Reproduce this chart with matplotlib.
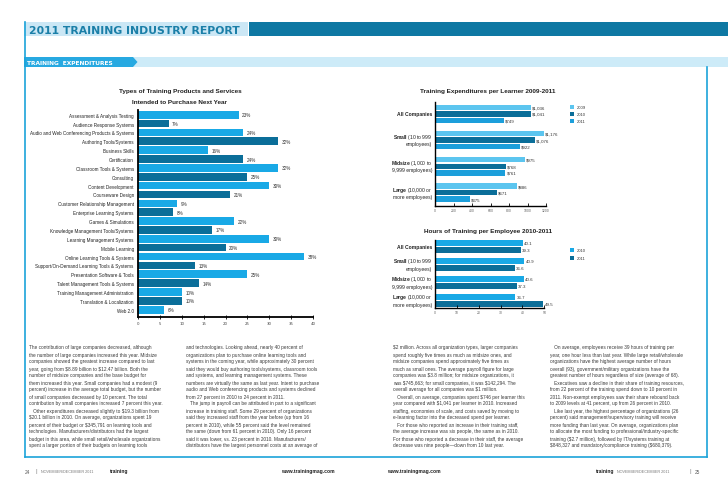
import matplotlib
matplotlib.use("Agg")
import matplotlib.pyplot as plt
from matplotlib.patches import Rectangle, Polygon

W, H = 728, 489
SANS = ["Liberation Sans", "DejaVu Sans"]
plt.rcParams["mathtext.fontset"] = "custom"
plt.rcParams["mathtext.bf"] = "Liberation Sans:bold"
plt.rcParams["mathtext.rm"] = "Liberation Sans"

LIGHT = "#19a9e6"
DARK = "#0b6e99"
MID = "#1c9fdb"
PALE = "#5cc5ef"
LINE = "#1ba3d9"

# ---- data ----
products = [
    "Assessment & Analysis Testing", "Audience Response Systems",
    "Audio and Web Conferencing Products & Systems", "Authoring Tools/Systems",
    "Business Skills", "Certification", "Classroom Tools & Systems", "Consulting",
    "Content Development", "Courseware Design", "Customer Relationship Management",
    "Enterprise Learning Systems", "Games & Simulations",
    "Knowledge Management Tools/Systems", "Learning Management Systems",
    "Mobile Learning", "Online Learning Tools & Systems",
    "Support/On-Demand Learning Tools & Systems", "Presentation Software & Tools",
    "Talent Management Tools & Systems", "Training Management Administration",
    "Translation & Localization", "Web 2.0",
]
product_pct = [23, 7, 24, 32, 16, 24, 32, 25, 30, 21, 9, 8, 22, 17, 30, 20, 38,
               13, 25, 14, 10, 10, 6]
product_ticks = [0, 5, 10, 15, 20, 25, 30, 35, 40]

size_bold = ["All Companies", "Small", "Midsize", "Large"]
size_rest = [("",), (" (10 to 999", "employees)"),
             (" (1,000 to", "9,999 employees)"), (" (10,000 or", "more employees)")]
spend_years = ["2009", "2010", "2011"]
spend_2009 = [1036, 1176, 975, 886]
spend_2010 = [1041, 1076, 768, 671]
spend_2011 = [749, 922, 761, 375]
spend_ticks = [0, 200, 400, 600, 800, 1000, 1200]

hours_years = ["2010", "2011"]
hours_2010 = [40.1, 40.9, 40.6, 36.7]
hours_2011 = [39.3, 36.6, 37.3, 49.5]
hours_ticks = [0, 10, 20, 30, 40, 50]

col1 = [
    "The contribution of large companies decreased, although",
    "the number of large companies increased this year. Midsize",
    "companies showed the greatest increase compared to last",
    "year, going from $8.89 billion to $12.47 billion. Both the",
    "number of midsize companies and the base budget for",
    "them increased this year. Small companies had a modest (9",
    "percent) increase in the average total budget, but the number",
    "of small companies decreased by 10 percent. The total",
    "contribution by small companies increased 7 percent this year.",
    "   Other expenditures decreased slightly to $19.3 billion from",
    "$20.1 billion in 2010. On average, organizations spent 19",
    "percent of their budget or $345,791 on learning tools and",
    "technologies. Manufacturers/distributors had the largest",
    "budget in this area, while small retail/wholesale organizations",
    "spent a larger portion of their budgets on learning tools",
]
col2 = [
    "and technologies. Looking ahead, nearly 40 percent of",
    "organizations plan to purchase online learning tools and",
    "systems in the coming year, while approximately 30 percent",
    "said they would buy authoring tools/systems, classroom tools",
    "and systems, and learning management systems. These",
    "numbers are virtually the same as last year. Intent to purchase",
    "audio and Web conferencing products and systems declined",
    "from 27 percent in 2010 to 24 percent in 2011.",
    "   The jump in payroll can be attributed in part to a significant",
    "increase in training staff. Some 29 percent of organizations",
    "said they increased staff from the year before (up from 16",
    "percent in 2010), while 55 percent said the level remained",
    "the same (down from 61 percent in 2010). Only 16 percent",
    "said it was lower, vs. 23 percent in 2010. Manufacturers/",
    "distributors have the largest personnel costs at an average of",
]
col3 = [
    "$2 million. Across all organization types, larger companies",
    "spend roughly five times as much as midsize ones, and",
    "midsize companies spend approximately five times as",
    "much as small ones. The average payroll figure for large",
    "companies was $3.8 million; for midsize organizations, it",
    "was $745,663; for small companies, it was $142,294. The",
    "overall average for all companies was $1 million.",
    "   Overall, on average, companies spent $746 per learner this",
    "year compared with $1,041 per learner in 2010. Increased",
    "staffing, economies of scale, and costs saved by moving to",
    "e-learning factor into the decreased spend per learner.",
    "   For those who reported an increase in their training staff,",
    "the average increase was six people, the same as in 2010.",
    "For those who reported a decrease in their staff, the average",
    "decrease was nine people\u2014down from 10 last year.",
]
col4 = [
    "   On average, employees receive 39 hours of training per",
    "year, one hour less than last year. While large retail/wholesale",
    "organizations have the highest average number of hours",
    "overall (93), government/military organizations have the",
    "greatest number of hours regardless of size (average of 68).",
    "   Executives saw a decline in their share of training resources,",
    "from 22 percent of the training spend down to 10 percent in",
    "2011. Non-exempt employees saw their share rebound back",
    "to 2009 levels at 41 percent, up from 26 percent in 2010.",
    "   Like last year, the highest percentage of organizations (26",
    "percent) said management/supervisory training will receive",
    "more funding than last year. On average, organizations plan",
    "to allocate the most funding to professional/industry-specific",
    "training ($2.7 million), followed by IT/systems training at",
    "$848,327 and mandatory/compliance training ($680,379).",
]

fig = plt.figure(figsize=(W / 100, H / 100), dpi=100)
bg = fig.add_axes([0, 0, 1, 1])
bg.set_xlim(0, W)
bg.set_ylim(H, 0)
bg.axis("off")


def px_axes(x0, y0, x1, y1):
    return fig.add_axes([x0 / W, 1 - y1 / H, (x1 - x0) / W, (y1 - y0) / H])


# ---- page frame and headers ----
bg.add_patch(Rectangle((24, 23), 224, 14, color="#cbe7f5", lw=0))
bg.add_patch(Rectangle((249, 23), W - 249, 14, color="#0e78a3", lw=0))
bg.text(29, 30.5, "2011 TRAINING INDUSTRY REPORT", fontsize=7.8, fontweight="bold",
        color="#1b7fa8", va="center", ha="left", family="DejaVu Sans")
bg.add_patch(Rectangle((133, 58), W - 133, 10, color="#cdebf8", lw=0))
bg.add_patch(Polygon([(24, 58), (133, 58), (137.5, 63), (133, 68), (24, 68)],
                     closed=True, color="#27a9e1", lw=0))
bg.text(27, 63.2, "TRAINING  EXPENDITURES", fontsize=4.2, fontweight="bold",
        color="white", va="center", ha="left", family="DejaVu Sans")
bg.plot([24.5, 24.5], [23, 458], color=LINE, lw=1.2)
bg.plot([24.5, 706.5], [458, 458], color=LINE, lw=1.2)
bg.plot([706.5, 706.5], [68, 458], color=LINE, lw=1.2)

# ---- left chart ----
bg.text(180, 92, "Types of Training Products and Services", fontsize=4.6,
        fontweight="bold", ha="center", va="center", family=SANS, color="#222")
bg.text(180, 102, "Intended to Purchase Next Year", fontsize=4.6,
        fontweight="bold", ha="center", va="center", family=SANS, color="#222")
ax = px_axes(138, 111, 313, 318)
idx = list(range(len(products)))
colors = [LIGHT if i % 2 == 0 else DARK for i in idx]
ax.barh(idx, product_pct, height=0.86, color=colors, lw=0)
for i, v in zip(idx, product_pct):
    ax.text(v + 0.8, i, f"{v}%", fontsize=3.3, va="center", ha="left",
            color="#333", family=SANS)
ax.set_xlim(0, 40)
ax.set_ylim(22.82, -0.53)
ax.set_yticks(idx)
ax.set_yticklabels(products, fontsize=3.35, family=SANS, color="#222")
ax.set_xticks(product_ticks)
ax.set_xticklabels([str(t) for t in product_ticks], fontsize=2.8, color="#444")
ax.tick_params(axis="y", length=0, pad=3)
ax.tick_params(axis="x", length=2.5, width=0.6, direction="inout", pad=1.5)
for s in ["top", "right"]:
    ax.spines[s].set_visible(False)
ax.spines["left"].set_linewidth(1.3)
ax.spines["bottom"].set_linewidth(1.3)
ax.patch.set_alpha(0)


def size_labels(ys):
    for b, rest, yy in zip(size_bold, size_rest, ys):
        if len(rest) == 1:
            bg.text(432, (yy[0] + yy[-1]) / 2, b, fontsize=3.6, fontweight="bold",
                    ha="right", va="center", family=SANS, color="#222")
        else:
            bg.text(432, yy[0], "$\\mathbf{%s}$%s" % (b, rest[0]), fontsize=3.6,
                    ha="right", va="center", family=SANS, color="#222")
            bg.text(432, yy[1], rest[1], fontsize=3.6, ha="right", va="center",
                    family=SANS, color="#222")


def right_axes(ax):
    for s in ["top", "right"]:
        ax.spines[s].set_visible(False)
    ax.spines["left"].set_linewidth(1.0)
    ax.spines["bottom"].set_linewidth(1.0)
    ax.set_yticks([])
    ax.tick_params(axis="x", length=2, width=0.6, direction="in", pad=1.5,
                   labelsize=2.2, labelcolor="#555")
    ax.patch.set_alpha(0)


# ---- top right chart ----
bg.text(488, 92, "Training Expenditures per Learner 2009-2011", fontsize=4.6,
        fontweight="bold", ha="center", va="center", family=SANS, color="#222")
ax2 = px_axes(435, 103.3, 546, 206.7)
for j, (vals, c) in enumerate(zip([spend_2009, spend_2010, spend_2011], [PALE, DARK, MID])):
    ys = [4 * g + j for g in range(len(vals))]
    ax2.barh(ys, vals, height=0.82, color=c, lw=0)
    for y, v in zip(ys, vals):
        ax2.text(v + 12, y, f"${v:,}", fontsize=3.2, va="center", ha="left",
                 color="#333", family=SANS, parse_math=False)
ax2.set_xlim(0, 1200)
ax2.set_ylim(15.0, -0.76)
ax2.set_xticks(spend_ticks)
ax2.set_xticklabels([str(t) for t in spend_ticks])
right_axes(ax2)
size_labels([(108.3, 121.3), (137.5, 144.5), (163.5, 170.5), (190.5, 197.5)])
for k, (yr, c) in enumerate(zip(spend_years, [PALE, DARK, MID])):
    y = 108.3 + k * 6.8
    bg.add_patch(Rectangle((570, y - 2), 4, 4, color=c, lw=0))
    bg.text(576.5, y, yr, fontsize=3.0, va="center", ha="left", color="#333", family=SANS)

# ---- bottom right chart ----
bg.text(488, 231.7, "Hours of Training per Employee 2010-2011", fontsize=4.6,
        fontweight="bold", ha="center", va="center", family=SANS, color="#222")
ax3 = px_axes(435, 240.7, 544.3, 309.3)
for j, (vals, c) in enumerate(zip([hours_2010, hours_2011], [LIGHT, DARK])):
    ys = [2.5 * g + j for g in range(len(vals))]
    ax3.barh(ys, vals, height=0.83, color=c, lw=0)
    for y, v in zip(ys, vals):
        ax3.text(v + 0.6, y, f"{v}", fontsize=3.2, va="center", ha="left",
                 color="#333", family=SANS)
ax3.set_xlim(0, 50)
ax3.set_ylim(9.07, -0.46)
ax3.set_xticks(hours_ticks)
ax3.set_xticklabels([str(t) for t in hours_ticks])
right_axes(ax3)
size_labels([(244, 251), (261, 269), (279, 287), (298, 305)])
for k, (yr, c) in enumerate(zip(hours_years, [LIGHT, DARK])):
    y = 251 + k * 8
    bg.add_patch(Rectangle((570, y - 2), 4, 4, color=c, lw=0))
    bg.text(576.5, y, yr, fontsize=3.0, va="center", ha="left", color="#333", family=SANS)

# ---- body text ----
for x, lines in [(29, col1), (186, col2), (393, col3), (550, col4)]:
    for n, line in enumerate(lines):
        bg.text(x, 348 + n * 7.0, line, fontsize=3.4, va="center", ha="left",
                color="#3a3a3a", family=SANS, parse_math=False)

# ---- footer ----
fy = 472
bg.text(25, fy, "24", fontsize=3.4, va="center", color="#555", family=SANS)
bg.text(35, fy, "|", fontsize=4.5, va="center", color="#888", family=SANS)
bg.text(41, fy, "NOVEMBER/DECEMBER 2011", fontsize=2.7, va="center", color="#777", family=SANS)
bg.text(110, fy, "training", fontsize=3.6, va="center", fontweight="bold", color="#222", family=SANS)
bg.text(308, fy, "www.trainingmag.com", fontsize=3.6, va="center", ha="center",
        fontweight="bold", color="#222", family=SANS)
bg.text(414, fy, "www.trainingmag.com", fontsize=3.6, va="center", ha="center",
        fontweight="bold", color="#222", family=SANS)
bg.text(614, fy, "training", fontsize=3.6, va="center", ha="right", fontweight="bold",
        color="#222", family=SANS)
bg.text(617, fy, "NOVEMBER/DECEMBER 2011", fontsize=2.7, va="center", color="#777", family=SANS)
bg.text(689, fy, "|", fontsize=4.5, va="center", color="#888", family=SANS)
bg.text(695, fy, "25", fontsize=3.4, va="center", color="#555", family=SANS)

fig.savefig("out.png", dpi=100)
